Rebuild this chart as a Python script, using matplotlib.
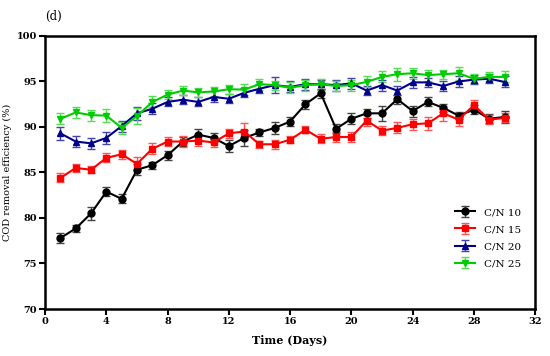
import numpy as np
import matplotlib
matplotlib.use("Agg")
import matplotlib.pyplot as plt

# ----------------------------------------------------------------------
# data
# ----------------------------------------------------------------------
days = list(range(1, 31))

cn10 = [77.8, 78.85, 80.5, 82.9, 82.1, 85.3, 85.8, 86.9, 88.4, 89.15,
        88.8, 87.9, 88.8, 89.4, 89.9, 90.6, 92.5, 93.7, 89.8, 90.9,
        91.5, 91.5, 93.05, 91.75, 92.75, 92.1, 91.25, 91.9, 90.9, 91.1]
cn10_err = [0.6, 0.4, 0.7, 0.5, 0.5, 0.6, 0.4, 0.5, 0.5, 0.6,
            0.5, 0.7, 0.9, 0.4, 0.7, 0.5, 0.5, 0.5, 0.5, 0.6,
            0.5, 0.8, 0.5, 0.6, 0.5, 0.4, 0.4, 0.5, 0.5, 0.7]

cn15 = [84.4, 85.5, 85.3, 86.6, 87.0, 85.95, 87.6, 88.4, 88.4, 88.5,
        88.3, 89.3, 89.5, 88.1, 88.1, 88.6, 89.7, 88.7, 88.9, 88.9,
        90.7, 89.6, 89.9, 90.3, 90.4, 91.5, 90.8, 92.4, 90.8, 91.0]
cn15_err = [0.5, 0.4, 0.4, 0.5, 0.5, 0.7, 0.6, 0.5, 0.6, 0.6,
            0.5, 0.5, 0.9, 0.4, 0.5, 0.4, 0.4, 0.5, 0.6, 0.5,
            0.6, 0.5, 0.6, 0.6, 0.7, 0.8, 0.7, 0.6, 0.5, 0.5]

cn20 = [89.3, 88.4, 88.2, 88.8, 90.1, 91.5, 92.0, 92.75, 93.0, 92.75,
        93.3, 93.1, 93.75, 94.2, 94.6, 94.4, 94.7, 94.7, 94.6, 94.8,
        94.0, 94.6, 94.0, 94.9, 94.9, 94.5, 95.0, 95.2, 95.3, 94.95]
cn20_err = [0.7, 0.6, 0.6, 0.7, 0.6, 0.7, 0.6, 0.5, 0.5, 0.5,
            0.6, 0.5, 0.5, 0.5, 0.9, 0.6, 0.6, 0.5, 0.6, 0.6,
            0.5, 0.6, 0.5, 0.6, 0.5, 0.6, 0.6, 0.5, 0.5, 0.6]

cn25 = [90.9, 91.6, 91.3, 91.25, 89.9, 91.2, 92.75, 93.55, 94.0, 93.8,
        93.9, 94.15, 94.1, 94.7, 94.6, 94.3, 94.6, 94.7, 94.5, 94.6,
        94.95, 95.5, 95.8, 95.9, 95.7, 95.8, 95.9, 95.3, 95.5, 95.5]
cn25_err = [0.6, 0.6, 0.6, 0.7, 0.7, 0.9, 0.6, 0.5, 0.5, 0.5,
            0.5, 0.5, 0.6, 0.6, 0.5, 0.6, 0.6, 0.6, 0.6, 0.6,
            0.6, 0.6, 0.7, 0.6, 0.6, 0.5, 0.7, 0.5, 0.5, 0.6]

labels = ["C/N 10", "C/N 15", "C/N 20", "C/N 25"]

# ----------------------------------------------------------------------
# figure
# ----------------------------------------------------------------------
plt.rcParams['font.family'] = ['DejaVu Serif']

fig = plt.figure(figsize=(5.5, 3.56), dpi=100)
ax = fig.add_axes([0.082, 0.132, 0.891, 0.767])

series = [
    (cn10, cn10_err, "black", "o", "#444444"),
    (cn15, cn15_err, "#ff0000", "s", "#ff5555"),
    (cn20, cn20_err, "#00008b", "^", "#4444aa"),
    (cn25, cn25_err, "#00cc00", "v", "#55dd55"),
]
for (y, e, c, m, ec), lab in zip(series, labels):
    ax.errorbar(days, y, yerr=e, color=c, marker=m, markersize=5,
                linewidth=1.5, ecolor=ec, elinewidth=1.0, capsize=3,
                capthick=1.0, label=lab)

ax.set_xlim(0, 32)
ax.set_ylim(70, 100)
ax.set_xticks(np.arange(0, 33, 4))
ax.set_yticks(np.arange(70, 101, 5))
for sp in ax.spines.values():
    sp.set_linewidth(1.8)
ax.tick_params(direction='out', length=4, width=1.5, labelsize=7, pad=2)
for t in ax.get_xticklabels() + ax.get_yticklabels():
    t.set_fontweight('bold')

ax.set_xlabel("Time (Days)", fontsize=8, fontweight='bold', labelpad=6)
ax.set_ylabel("COD removal efficiency (%)", fontsize=7, labelpad=3)
fig.text(0.082, 0.955, "(d)", fontsize=8.5, ha='left', va='center')

ax.legend(loc='center right', bbox_to_anchor=(0.99, 0.26), frameon=False,
          fontsize=7.5, handlelength=2.0, labelspacing=0.75)

fig.savefig("out.png", dpi=100)
